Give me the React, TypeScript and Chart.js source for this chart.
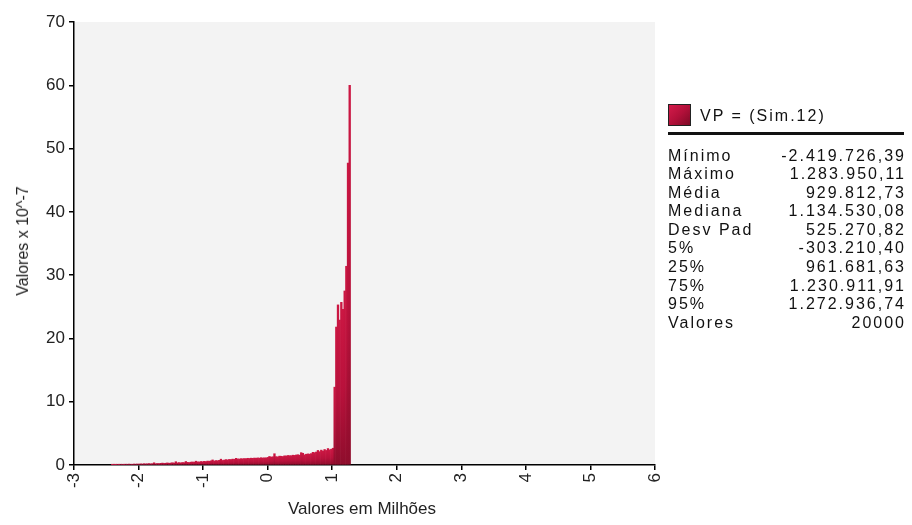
import React, { useEffect, useRef } from "react";
import { Chart, registerables } from "chart.js";

Chart.register(...registerables);

// Histogram bins (values in millions) and densities (x 10^-7)
const BIN_START = -2.42;
const BIN_WIDTH = 0.0259;
const densities: number[] = [
  // -2.42 .. -1.80
  0.05, 0.08, 0.06, 0.1, 0.08, 0.12, 0.1, 0.09, 0.13, 0.11, 0.14, 0.12, 0.1, 0.15, 0.13, 0.16, 0.14, 0.18, 0.15, 0.2, 0.17, 0.19, 0.22, 0.18, 0.21,
  // -1.80 .. -1.20
  0.35, 0.2, 0.24, 0.22, 0.26, 0.3, 0.25, 0.28, 0.33, 0.27, 0.31, 0.36, 0.3, 0.52, 0.34, 0.38, 0.33, 0.4, 0.37, 0.55, 0.42, 0.39,
  // -1.20 .. -0.60
  0.45, 0.48, 0.44, 0.6, 0.5, 0.47, 0.55, 0.52, 0.58, 0.54, 0.62, 0.59, 0.66, 0.8, 0.63, 0.7, 0.68, 0.74, 0.92, 0.72, 0.78, 0.85, 0.8,
  // -0.60 .. 0.00
  0.88, 0.86, 0.93, 0.9, 1.05, 0.96, 0.94, 1.0, 0.98, 1.02, 1.0, 1.06, 1.03, 1.08, 1.05, 1.1, 1.07, 1.12, 1.08, 1.15, 1.1, 1.14, 1.12,
  // 0.00 .. 0.50
  1.2, 1.35, 1.25, 1.3, 1.78, 1.32, 1.28, 1.4, 1.38, 1.34, 1.45, 1.42, 1.5, 1.48, 1.46, 1.55, 1.52, 1.58, 1.62, 1.56,
  // 0.50 .. 1.02
  1.95, 1.85, 1.6, 1.7, 1.75, 1.72, 1.8, 2.0, 1.95, 2.05, 2.3, 2.1, 2.35, 2.2, 2.45, 2.3, 2.6, 2.4, 2.5, 2.65,
  // spike 1.02 .. 1.28
  12.3, 21.8, 25.3, 22.9, 25.7, 24.6, 27.5, 31.4, 47.7, 60.0,
];

const X_MIN = -3;
const X_MAX = 6;
const Y_MIN = 0;
const Y_MAX = 70;

const seriesName = "VP = (Sim.12)";
const statLabels = ["Mínimo", "Máximo", "Média", "Mediana", "Desv Pad", "5%", "25%", "75%", "95%", "Valores"];
const statValues = [
  "-2.419.726,39",
  "1.283.950,11",
  "929.812,73",
  "1.134.530,08",
  "525.270,82",
  "-303.210,40",
  "961.681,63",
  "1.230.911,91",
  "1.272.936,74",
  "20000",
];

const xTitle = "Valores em Milhões";
const yTitle = "Valores x 10^-7";

const FONT = "'Liberation Sans', Arial, sans-serif";

export default function App() {
  const ref = useRef<HTMLCanvasElement | null>(null);

  useEffect(() => {
    if (!ref.current) return;
    const points = densities.map((v, i) => ({ x: BIN_START + BIN_WIDTH * (i + 0.5), y: v }));

    const bgPlugin = {
      id: "plotBg",
      beforeDraw(chart: any) {
        const { ctx, chartArea } = chart;
        if (!chartArea) return;
        ctx.save();
        ctx.fillStyle = "#f3f3f3";
        ctx.fillRect(chartArea.left, chartArea.top, chartArea.right - chartArea.left, chartArea.bottom - chartArea.top);
        ctx.restore();
      },
    };

    const chart = new Chart(ref.current, {
      type: "bar",
      data: {
        datasets: [
          {
            label: seriesName,
            data: points as any,
            barPercentage: 1,
            categoryPercentage: 1,
            borderWidth: 0,
            backgroundColor: (c: any) => {
              const ch = c.chart;
              if (!ch.chartArea || c.type !== "data" || !c.raw) return "#bd1239";
              const ys = ch.scales.y;
              const top = ys.getPixelForValue(c.raw.y);
              const bot = ys.getPixelForValue(0);
              if (bot - top < 2) return "#c01340";
              const g = ch.ctx.createLinearGradient(0, top, 0, bot);
              g.addColorStop(0, "#cc1743");
              g.addColorStop(0.55, "#b8113b");
              g.addColorStop(1, "#8e0d2c");
              return g;
            },
          },
        ],
      },
      options: {
        responsive: false,
        animation: false,
        layout: { padding: { left: 0, top: 22, right: 257, bottom: 0 } },
        plugins: { legend: { display: false }, tooltip: { enabled: false }, title: { display: false } },
        scales: {
          x: {
            type: "linear",
            min: X_MIN,
            max: X_MAX,
            offset: false,
            afterFit: (s: any) => {
              s.height = 60;
            },
            ticks: {
              stepSize: 1,
              minRotation: 90,
              maxRotation: 90,
              autoSkip: false,
              padding: 3,
              color: "#222",
              font: { family: FONT, size: 17 },
            },
            grid: { display: true, offset: false, drawOnChartArea: false, drawTicks: true, tickLength: 5, color: "#000", lineWidth: 1.5 },
            border: { display: true, color: "#000", width: 1.5 },
          },
          y: {
            type: "linear",
            min: Y_MIN,
            max: Y_MAX,
            afterFit: (s: any) => {
              s.width = 74;
            },
            ticks: {
              stepSize: 10,
              padding: 4,
              color: "#222",
              font: { family: FONT, size: 17 },
            },
            grid: { display: true, offset: false, drawOnChartArea: false, drawTicks: true, tickLength: 5, color: "#000", lineWidth: 1.5 },
            border: { display: true, color: "#000", width: 1.5 },
          },
        },
      },
      plugins: [bgPlugin],
    });
    return () => chart.destroy();
  }, []);

  const rowH = 18.6;
  return (
    <div style={{ position: "absolute", left: 0, top: 0, width: 912, height: 525, background: "#fff", fontFamily: FONT, color: "#111" }}>
      <canvas ref={ref} width={912} height={525} style={{ display: "block", position: "absolute", left: 0, top: 0 }} />
      <div
        style={{
          position: "absolute",
          left: 23,
          top: 241,
          transform: "translate(-50%, -50%) rotate(-90deg)",
          whiteSpace: "nowrap",
          fontSize: 16,
          color: "#222",
        }}
      >
        {yTitle}
      </div>
      <div
        style={{
          position: "absolute",
          left: 362,
          top: 509,
          transform: "translate(-50%, -50%)",
          whiteSpace: "nowrap",
          fontSize: 17,
          color: "#222",
        }}
      >
        {xTitle}
      </div>
      {/* legend */}
      <div
        style={{
          position: "absolute",
          left: 668,
          top: 104,
          width: 21,
          height: 20,
          border: "1px solid #222",
          background: "linear-gradient(135deg, #d41b4a 0%, #b3103a 50%, #7e0a26 100%)",
        }}
      />
      <div style={{ position: "absolute", left: 700, top: 106, fontSize: 16, letterSpacing: 2, lineHeight: "20px", whiteSpace: "nowrap" }}>
        {seriesName}
      </div>
      <div style={{ position: "absolute", left: 668, top: 132, width: 236, height: 2.5, background: "#111" }} />
      <div style={{ position: "absolute", left: 668, top: 146.5, width: 236, fontSize: 16, letterSpacing: 2, lineHeight: `${rowH}px` }}>
        {statLabels.map((l, i) => (
          <div key={l} style={{ display: "flex", justifyContent: "space-between", height: rowH, whiteSpace: "nowrap" }}>
            <span>{l}</span>
            <span style={{ marginRight: -2 }}>{statValues[i]}</span>
          </div>
        ))}
      </div>
    </div>
  );
}
